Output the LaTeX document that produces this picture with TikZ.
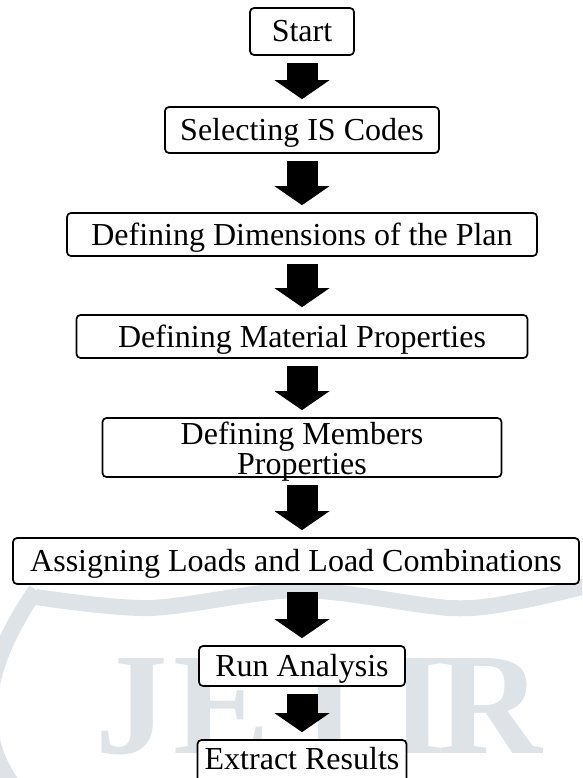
\documentclass[tikz,border=0pt]{standalone}
\usepackage{fontspec}
\setmainfont{Liberation Serif}
\usetikzlibrary{arrows.meta}
\definecolor{wmgray}{RGB}{221,227,231}

\tikzset{
  stepbox/.style={draw, line width=1.7pt, rounded corners=4pt, fill=white,
    inner sep=0pt, font=\fontsize{32}{30}\selectfont, text height=21pt, text depth=0pt},
  flowarrow/.style={line width=31pt, -{Triangle[width=55pt,length=19pt,line width=0pt]},
    shorten <=7pt, shorten >=7pt},
  wmletter/.style={wmgray, font=\fontsize{145}{145}\selectfont\bfseries, anchor=base, inner sep=0pt},
  wmband/.style={wmgray, line width=16pt}
}

\begin{document}
\begin{tikzpicture}[x=1pt,y=-1pt]
\clip (0,0) rectangle (582,778);

% watermark in the background
\draw[wmband] plot[smooth] coordinates {(36,597) (150,608) (300,590) (450,608) (520,601) (590,585)};
\draw[wmband] (36,590) .. controls (-5,650) and (-40,730) .. (25,800);
\foreach \ch/\px in {J/132,E/222,T/330,I/418,R/490}
  \node[wmletter] at (\px,753) {\ch};

% steps
\node[stepbox, minimum width=104pt, minimum height=47pt] (start) at (302,31.5) {Start};
\node[stepbox, minimum width=274pt, minimum height=46pt] (codes) at (302,130) {Selecting IS Codes};
\node[stepbox, minimum width=470pt, minimum height=43pt] (dims) at (302,234.5) {Defining Dimensions of the Plan};
\node[stepbox, minimum width=451pt, minimum height=43pt] (material) at (302,336.5) {Defining Material Properties};
\node[stepbox, minimum width=399pt, minimum height=59pt, align=center,
      text height=56pt, text depth=3pt] (members) at (302,447.5) {Defining Members\\Properties};
\node[stepbox, minimum width=566pt, minimum height=46pt] (loads) at (296,561) {Assigning Loads and Load Combinations};
\node[stepbox, minimum width=206pt, minimum height=40pt] (analysis) at (302,666) {Run Analysis};
\node[stepbox, minimum width=209pt, minimum height=50pt, text depth=13pt] (results) at (302,765) {Extract Results};

% block arrows
\coordinate (axis) at (302,0);
\foreach \a/\b in {start/codes,codes/dims,dims/material,material/members,members/loads,loads/analysis,analysis/results}
  \draw[flowarrow] (\a.south -| axis) -- (\b.north -| axis);
\end{tikzpicture}
\end{document}
